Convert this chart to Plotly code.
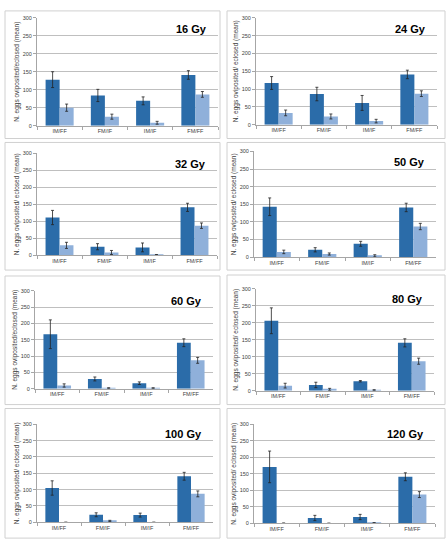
import plotly.graph_objects as go

W, H = 447, 550

categories = ["IM/FF", "FM/IF", "IM/IF", "FM/FF"]
doses = ["16 Gy", "24 Gy", "32 Gy", "50 Gy", "60 Gy", "80 Gy", "100 Gy", "120 Gy"]

# oviposited (dark) means and errors per dose
ovi_16 = [128, 84, 69, 141];   ovi_err_16 = [22, 17, 11, 12]
ecl_16 = [50, 25, 8, 87];      ecl_err_16 = [10, 7, 4, 8]
ovi_24 = [117, 86, 61, 141];   ovi_err_24 = [18, 19, 21, 12]
ecl_24 = [33, 23, 10, 87];     ecl_err_24 = [8, 7, 5, 8]
ovi_32 = [111, 25, 23, 141];   ovi_err_32 = [21, 9, 13, 12]
ecl_32 = [29, 8, 1, 87];       ecl_err_32 = [9, 6, 1, 8]
ovi_50 = [143, 21, 38, 141];   ovi_err_50 = [25, 6, 7, 12]
ecl_50 = [15, 9, 4, 87];       ecl_err_50 = [5, 3, 3, 9]
ovi_60 = [167, 30, 17, 141];   ovi_err_60 = [44, 6, 4, 12]
ecl_60 = [10, 2, 2, 87];       ecl_err_60 = [5, 1, 1, 9]
ovi_80 = [206, 17, 28, 141];   ovi_err_80 = [38, 8, 2, 12]
ecl_80 = [15, 4, 2, 87];       ecl_err_80 = [7, 3, 1, 9]
ovi_100 = [105, 23, 22, 141];  ovi_err_100 = [22, 6, 6, 12]
ecl_100 = [0, 4, 0, 87];       ecl_err_100 = [0.5, 2, 0.5, 9]
ovi_120 = [171, 16, 19, 141];  ovi_err_120 = [48, 8, 8, 12]
ecl_120 = [0, 0, 1, 87];       ecl_err_120 = [1, 0.5, 1, 9]

y_ticks = [0, 50, 100, 150, 200, 250, 300]
y_titles = ["N. eggs oviposited/eclosed (mean)", "N. eggs oviposited/ eclosed (mean)",
            "N. eggs oviposited/ eclosed (mean)", "N. eggs oviposited/ eclosed (mean)",
            "N. eggs oviposited/eclosed (mean)", "N. eggs oviposited/ eclosed (mean)",
            "N. eggs oviposited/ eclosed (mean)", "N. eggs oviposited/ eclosed (mean)"]

ovi = [ovi_16, ovi_24, ovi_32, ovi_50, ovi_60, ovi_80, ovi_100, ovi_120]
ovi_err = [ovi_err_16, ovi_err_24, ovi_err_32, ovi_err_50, ovi_err_60, ovi_err_80, ovi_err_100, ovi_err_120]
ecl = [ecl_16, ecl_24, ecl_32, ecl_50, ecl_60, ecl_80, ecl_100, ecl_120]
ecl_err = [ecl_err_16, ecl_err_24, ecl_err_32, ecl_err_50, ecl_err_60, ecl_err_80, ecl_err_100, ecl_err_120]

# plot areas in pixels: (x0, x1, ytop, ybottom)
plot_px = [(37, 218, 15, 124), (256, 437, 15, 123),
           (37, 217, 152, 255), (254, 436, 150, 257),
           (35, 213, 291, 390), (256, 434, 289, 392),
           (37, 213, 426, 525), (254, 435, 426, 526)]
# chart frames in pixels: (x0, x1, ytop, ybottom)
frame_px = [(5, 220, 8, 137), (227, 445, 8, 137),
            (5, 220, 141, 270), (227, 445, 141, 270),
            (5, 220, 276, 406), (227, 445, 275, 406),
            (5, 220, 410, 541), (227, 445, 410, 541)]

DARK = "#2b6ca9"
LIGHT = "#8fb0da"
FONT = "Liberation Sans"

fig = go.Figure()
layout = dict(width=W, height=H, margin=dict(l=0, r=0, t=0, b=0),
              paper_bgcolor="white", plot_bgcolor="white", showlegend=False,
              bargap=0.38, bargroupgap=0.0, barmode="group",
              font=dict(family=FONT, size=6, color="#595959"))
shapes = []
annotations = []

for i in range(8):
    n = "" if i == 0 else str(i + 1)
    xa, ya = "x" + n, "y" + n
    for vals, errs, col in ((ovi[i], ovi_err[i], DARK), (ecl[i], ecl_err[i], LIGHT)):
        fig.add_trace(go.Bar(x=categories, y=vals, xaxis=xa, yaxis=ya,
                             marker=dict(color=col, line=dict(width=0)),
                             error_y=dict(type="data", array=errs, color="#222222",
                                          thickness=0.8, width=1.5)))
    x0, x1, yt, yb = plot_px[i]
    layout["xaxis" + n] = dict(domain=[x0 / W, x1 / W], anchor=ya, type="category",
                               showgrid=False, showline=True, linecolor="#a6a6a6", linewidth=1,
                               ticks="outside", tickson="boundaries", ticklen=3, tickcolor="#a6a6a6",
                               tickfont=dict(size=5.5, color="#404040"), fixedrange=True)
    layout["yaxis" + n] = dict(domain=[1 - yb / H, 1 - yt / H], anchor=xa, range=[0, 300],
                               tickvals=y_ticks, showgrid=True, gridcolor="#bfbfbf", gridwidth=0.8,
                               showline=True, linecolor="#a6a6a6", linewidth=1,
                               ticks="outside", ticklen=3, tickcolor="#a6a6a6",
                               tickfont=dict(size=5.5, color="#404040"), zeroline=False,
                               title=dict(text=y_titles[i], font=dict(size=6.5, color="#404040"),
                                          standoff=2), fixedrange=True)
    annotations.append(dict(text="<b>" + doses[i] + "</b>", xref="x" + n + " domain",
                            yref="y" + n + " domain", x=0.95, y=0.9, xanchor="right",
                            yanchor="middle", showarrow=False,
                            font=dict(family=FONT, size=11, color="black")))
    fx0, fx1, fyt, fyb = frame_px[i]
    shapes.append(dict(type="rect", xref="paper", yref="paper", x0=fx0 / W, x1=fx1 / W,
                       y0=1 - fyb / H, y1=1 - fyt / H, line=dict(color="#d0d0d0", width=1),
                       fillcolor="rgba(0,0,0,0)", layer="below"))

layout["shapes"] = shapes
layout["annotations"] = annotations
fig.update_layout(**layout)
fig.write_html("out.html", config={"displayModeBar": False},
               post_script="document.body.style.margin='0';document.body.style.overflow='hidden';")
